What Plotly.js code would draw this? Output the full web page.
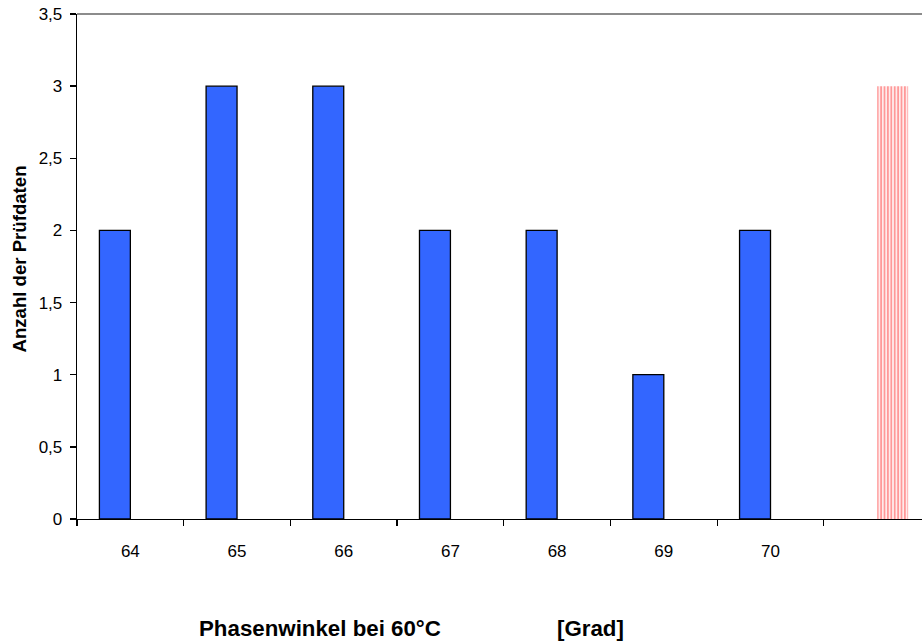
<!DOCTYPE html>
<html>
<head>
<meta charset="utf-8">
<script src="https://cdn.plot.ly/plotly-3.0.1.min.js"></script>
<style>html,body{margin:0;padding:0;background:#fff;}#chart{width:922px;height:644px;}</style>
</head>
<body>
<div id="chart"></div>
<script>
// Data
var categories = ['64', '65', '66', '67', '68', '69', '70', '\u00a0'];
var seriesMain = [2, 3, 3, 2, 2, 1, 2, null];
var seriesExtra = [null, null, null, null, null, null, null, 3];
var xTitleLeft = 'Phasenwinkel bei 60°C';
var xTitleRight = '[Grad]';
var yTitle = 'Anzahl der Prüfdaten';

var font = 'Liberation Sans, Arial, sans-serif';

var traces = [
  {
    type: 'bar', x: categories, y: seriesMain, name: 'main',
    marker: {color: '#3366ff', line: {color: '#000000', width: 1.3}},
    hoverinfo: 'x+y'
  },
  {
    type: 'bar', x: categories, y: seriesExtra, name: 'extra',
    marker: {color: '#ffffff', line: {width: 0},
      pattern: {shape: '|', fgcolor: '#ff9999', bgcolor: '#ffffff', size: 3.4, solidity: 0.6}},
    hoverinfo: 'x+y'
  }
];

var layout = {
  width: 922, height: 644,
  margin: {l: 77, r: 0, t: 14, b: 125},
  paper_bgcolor: '#ffffff', plot_bgcolor: '#ffffff',
  showlegend: false,
  barmode: 'group', bargap: 0.42, bargroupgap: 0,
  separators: ',.',
  font: {family: font, size: 17, color: '#000000'},
  xaxis: {
    type: 'category',
    range: [-0.5, 7.42],
    tickson: 'boundaries',
    ticks: 'outside', ticklen: 6, tickwidth: 1.3, tickcolor: '#000000',
    showline: true, linecolor: '#000000', linewidth: 1.3,
    showgrid: false, zeroline: false,
    ticklabelstandoff: 16,
    tickfont: {family: font, size: 17, color: '#000000'}
  },
  yaxis: {
    range: [0, 3.5], dtick: 0.5, tick0: 0,
    ticks: 'outside', ticklen: 6, tickwidth: 1.3, tickcolor: '#000000',
    showline: true, linecolor: '#000000', linewidth: 1.3,
    showgrid: false, zeroline: false,
    ticklabelstandoff: 4,
    tickfont: {family: font, size: 17, color: '#000000'}
  },
  shapes: [
    {type: 'line', xref: 'paper', yref: 'paper', x0: 0, x1: 1, y0: 1, y1: 1,
     line: {color: '#8c8c8c', width: 2}}
  ],
  annotations: [
    {xref: 'paper', yref: 'paper', x: (320 - 77) / 845, y: -(628 - 519) / 505,
     text: '<b>' + xTitleLeft + '</b>', showarrow: false, xanchor: 'center', yanchor: 'middle',
     font: {family: font, size: 22.3, color: '#000000'}},
    {xref: 'paper', yref: 'paper', x: (590.5 - 77) / 845, y: -(628 - 519) / 505,
     text: '<b>' + xTitleRight + '</b>', showarrow: false, xanchor: 'center', yanchor: 'middle',
     font: {family: font, size: 22.3, color: '#000000'}},
    {xref: 'paper', yref: 'paper', x: -(77 - 19) / 845, y: (519 - 259.5) / 505,
     text: '<b>' + yTitle + '</b>', showarrow: false, textangle: -90, xanchor: 'center', yanchor: 'middle',
     font: {family: font, size: 18.6, color: '#000000'}}
  ]
};

Plotly.newPlot('chart', traces, layout, {displayModeBar: false, staticPlot: true});
</script>
</body>
</html>
